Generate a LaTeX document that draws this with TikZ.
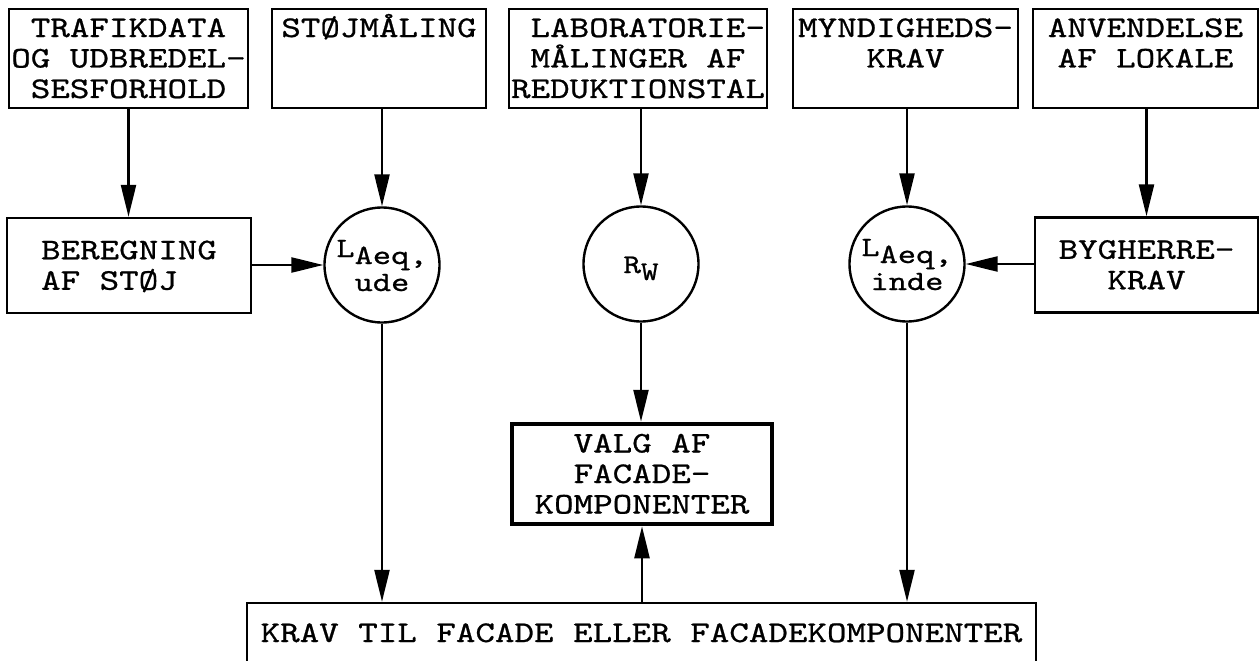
\documentclass[tikz,border=0pt]{standalone}
\usepackage{fontspec}
\setmonofont{lmmono10-regular.otf}[FakeStretch=1.24,FakeBold=0.8]
\usetikzlibrary{arrows.meta}
\newcommand\capline[1]{\rule{0pt}{18pt}\smash{#1}}
\begin{document}
\begin{tikzpicture}[x=1pt,y=-1pt,
  every node/.style={font=\ttfamily\fontsize{30}{30.5}\selectfont, inner sep=0pt},
  box/.style={draw, line width=2.4pt, align=center},
  thickbox/.style={draw, line width=4.5pt, align=center},
  ring/.style={draw, circle, line width=2.4pt, minimum size=115pt, align=center, font=\ttfamily\fontsize{28}{34}\selectfont},
  arr/.style={line width=2.4pt, -{Triangle[length=32pt,width=15pt]}}]
\useasboundingbox (0,0) rectangle (1259,661);
\clip (0,0) rectangle (1259,661);
% top row
\node[box, minimum width=239pt, minimum height=99pt] (b1) at (128.5,58.5) {\capline{TRAFIKDATA}\\\capline{OG UDBREDEL-}\\\capline{SESFORHOLD}};
\node[box, minimum width=214pt, minimum height=99pt] (b2) at (379,58.5) {\capline{STØJMÅLING}\\\capline{}\\\capline{}};
\node[box, align=left, minimum width=258pt, minimum height=99pt] (b3) at (638,58.5) {\capline{\ LABORATORIE-}\\\capline{\ MÅLINGER AF}\\\capline{REDUKTIONSTAL}};
\node[box, minimum width=225pt, minimum height=99pt] (b4) at (905.5,58.5) {\capline{MYNDIGHEDS-}\\\capline{KRAV}\\\capline{}};
\node[box, minimum width=225pt, minimum height=99pt] (b5) at (1145.5,58.5) {\capline{ANVENDELSE}\\\capline{AF LOKALE}\\\capline{}};
% middle row
\node[box, align=left, minimum width=244pt, minimum height=95pt] (ber) at (129,265.5) {\capline{BEREGNING}\\\capline{AF STØJ}};
\node[ring] (ude) at (382,265) {\capline{L\raisebox{-7pt}{Aeq,}}\\\capline{ude}};
\node[ring, font=\ttfamily\fontsize{27}{30}\selectfont] (rw) at (641,264) {\capline{R\raisebox{-7pt}{W}}};
\node[ring] (inde) at (907,264) {\capline{L\raisebox{-7pt}{Aeq,}}\\\capline{inde}};
\node[box, minimum width=223pt, minimum height=95pt] (byg) at (1146.5,265) {\capline{BYGHERRE-}\\\capline{KRAV}};
% lower
\node[thickbox, minimum width=260pt, minimum height=100pt] (valg) at (642,474) {\capline{VALG AF}\\\capline{FACADE-}\\\capline{KOMPONENTER}};
\node[box, minimum width=789pt, minimum height=60pt] (krav) at (641.5,633) {\capline{KRAV TIL FACADE ELLER FACADEKOMPONENTER}};
% connectors
\draw[arr] (b1.south) -- (b1.south |- ber.north);
\draw[arr] (b2.south -| ude) -- (ude.north);
\draw[arr] (b3.south -| rw) -- (rw.north);
\draw[arr] (b4.south -| inde) -- (inde.north);
\draw[arr] (b5.south -| byg) -- (byg.north);
\draw[arr] (ber.east |- ude) -- (ude.west);
\draw[arr] (byg.west |- inde) -- (inde.east);
\draw[arr] (rw.south) -- (rw.south |- valg.north);
\draw[arr] (ude.south) -- (ude.south |- krav.north);
\draw[arr] (inde.south) -- (inde.south |- krav.north);
\draw[arr] (krav.north -| valg) -- (valg.south);
\end{tikzpicture}
\end{document}
